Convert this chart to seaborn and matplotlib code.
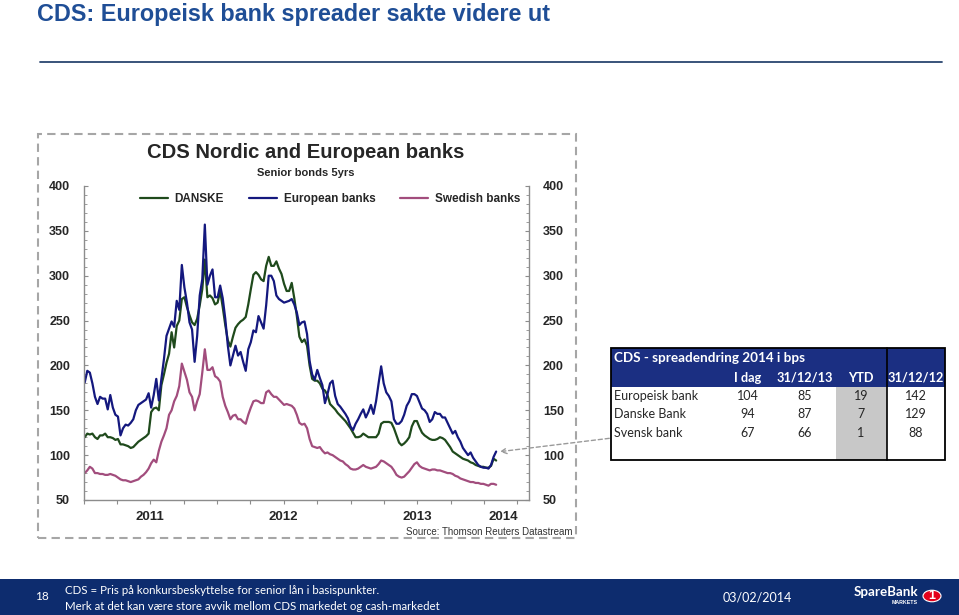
import numpy as np
import pandas as pd
import matplotlib
matplotlib.use("Agg")
import matplotlib.pyplot as plt
import matplotlib.dates as mdates
from matplotlib.ticker import MultipleLocator, NullFormatter
from matplotlib.patches import Rectangle, Circle, FancyArrowPatch
from matplotlib.lines import Line2D
import seaborn as sns

# ---------------- data (weekly, first week = 2011-01-03) ----------------
START = "2011-01-03"
danske = [120, 124, 123, 124, 120, 118, 122, 122, 124, 120, 120, 119, 117, 118, 112, 112, 111, 110, 108, 109,
          112, 115, 117, 119, 121, 124, 148, 152, 153, 150, 178, 190, 203, 213, 237, 220, 244, 250, 274, 276,
          265, 256, 248, 245, 252, 267, 285, 318, 276, 278, 275, 268, 270, 283, 265, 245, 228, 221, 232, 242,
          246, 249, 251, 254, 268, 285, 301, 304, 301, 296, 294, 311, 321, 311, 311, 316, 308, 302, 291, 283,
          283, 292, 275, 255, 232, 226, 229, 222, 200, 185, 183, 183, 180, 174, 172, 167, 157, 154, 151, 147,
          144, 141, 138, 134, 130, 125, 120, 120, 121, 124, 122, 120, 120, 120, 120, 124, 135, 137, 137, 137,
          136, 130, 122, 114, 111, 113, 116, 120, 132, 138, 138, 131, 125, 122, 120, 118, 117, 117, 118, 120,
          119, 117, 113, 109, 104, 102, 100, 98, 96, 95, 94, 92, 91, 89, 88, 87, 87, 86, 86, 88,
          96, 94]
european = [181, 194, 192, 180, 165, 157, 165, 163, 163, 151, 167, 153, 145, 143, 122, 130, 134, 133, 136, 140,
            150, 156, 158, 160, 162, 169, 153, 167, 185, 161, 185, 207, 233, 241, 249, 243, 272, 262, 312, 287,
            270, 248, 240, 204, 233, 278, 296, 357, 290, 300, 307, 276, 276, 289, 275, 252, 222, 200, 211, 222,
            211, 215, 204, 194, 218, 226, 239, 237, 255, 248, 241, 267, 300, 300, 294, 278, 274, 272, 270, 271,
            272, 274, 268, 259, 245, 248, 249, 235, 205, 190, 184, 195, 186, 178, 158, 168, 180, 183, 166, 157,
            154, 150, 146, 141, 132, 128, 135, 140, 146, 151, 142, 148, 156, 146, 160, 180, 199, 180, 170, 166,
            160, 140, 135, 135, 138, 145, 155, 160, 168, 168, 166, 159, 152, 150, 146, 137, 140, 148, 146, 146,
            142, 142, 136, 130, 124, 127, 120, 115, 108, 104, 100, 103, 97, 93, 89, 87, 86, 86, 85, 89,
            98, 104]
swedish = [80, 83, 87, 85, 80, 80, 79, 79, 78, 78, 79, 78, 77, 75, 73, 72, 72, 71, 70, 71,
           72, 73, 76, 78, 81, 85, 91, 95, 92, 105, 115, 122, 130, 145, 150, 160, 166, 177, 202, 193,
           184, 170, 165, 150, 160, 168, 192, 218, 195, 195, 198, 188, 186, 182, 165, 155, 148, 140, 144, 145,
           140, 140, 137, 135, 145, 153, 160, 161, 160, 158, 158, 170, 172, 168, 165, 165, 162, 159, 156, 157,
           156, 155, 152, 145, 136, 134, 135, 130, 118, 110, 109, 108, 109, 105, 102, 103, 101, 100, 98, 96,
           94, 93, 90, 88, 85, 84, 84, 85, 87, 89, 87, 86, 85, 86, 87, 90, 94, 93, 91, 89,
           87, 83, 78, 76, 75, 76, 79, 82, 86, 90, 92, 88, 86, 85, 84, 83, 84, 84, 83, 83,
           82, 81, 80, 80, 79, 77, 76, 74, 73, 72, 71, 70, 70, 69, 69, 68, 68, 67, 66, 68,
           68, 67]

series_names = ["DANSKE", "European banks", "Swedish banks"]
series_colors = ["#1F4A1C", "#14187E", "#A24D7D"]

y_ticks = [50, 100, 150, 200, 250, 300, 350, 400]
year_labels = ["2011", "2012", "2013", "2014"]
year_label_dates = ["2011-07-01", "2012-07-01", "2013-07-01", "2014-02-22"]

table_title = "CDS - spreadendring 2014 i bps"
table_cols = ["I dag", "31/12/13", "YTD", "31/12/12"]
table_rows = ["Europeisk bank", "Danske Bank", "Svensk bank"]
table_idag = [104, 94, 67]
table_d1213 = [85, 87, 66]
table_ytd = [19, 7, 1]
table_d1212 = [142, 129, 88]

# ---------------- build frame ----------------
def weekly(vals):
    return pd.Timestamp(START) + pd.to_timedelta(np.arange(len(vals)) * 7, unit="D")

frames = []
for name, vals in zip(series_names, [danske, european, swedish]):
    frames.append(pd.DataFrame({"date": weekly(vals), "value": vals, "series": name}))
df = pd.concat(frames, ignore_index=True)

# ---------------- figure ----------------
sns.set_style("white")
plt.rcParams["font.family"] = ["Liberation Sans", "DejaVu Sans"]

W, H = 959, 615
fig = plt.figure(figsize=(W / 100, H / 100), dpi=100)
fig.patch.set_facecolor("white")

def fx(x):
    return x / W

def fy(y):
    return 1 - y / H

# page title + rule
fig.text(fx(37), fy(14), "CDS: Europeisk bank spreader sakte videre ut", ha="left", va="center",
         fontsize=16.8, fontweight="bold", color="#1F4E96")
fig.add_artist(Line2D([fx(40), fx(942)], [fy(62), fy(62)], color="#2A4570", lw=1.3))

# dashed frame around chart
fig.add_artist(Rectangle((fx(38), fy(538)), (576 - 38) / W, (538 - 134) / H, fill=False,
                         ec="#A6A6A6", lw=1.5, ls=(0, (4, 2.5)), transform=fig.transFigure))

# chart axes
ax = fig.add_axes([fx(84), fy(500), (529 - 84) / W, (500 - 186) / H])
sns.lineplot(data=df, x="date", y="value", hue="series", hue_order=series_names,
             palette=series_colors, linewidth=1.6, ax=ax)

ax.set_ylim(50, 400)
ax.set_xlim(pd.Timestamp("2011-01-01"), pd.Timestamp("2014-05-04"))
ax.set_xlabel("")
ax.set_ylabel("")
for s in ["left", "right", "bottom"]:
    ax.spines[s].set_visible(True)
    ax.spines[s].set_color("#8C8C8C")
    ax.spines[s].set_linewidth(1.0)
ax.spines["top"].set_visible(False)

ax.set_yticks(y_ticks)
ax.yaxis.set_minor_locator(MultipleLocator(10))
ax.tick_params(axis="y", which="major", left=True, right=True, labelleft=True, labelright=True,
               direction="in", length=3, color="#8C8C8C", labelsize=9, pad=10)
ax.tick_params(axis="y", which="minor", left=True, right=True, direction="in", length=2, color="#8C8C8C")
for t in ax.yaxis.get_major_ticks():
    t.label1.set_fontweight("bold")
    t.label2.set_fontweight("bold")

ax.xaxis.remove_overlapping_locs = False
ax.xaxis.set_major_locator(mdates.MonthLocator(bymonth=[1, 4, 7, 10]))
ax.xaxis.set_major_formatter(NullFormatter())
ax.set_xticks(pd.to_datetime(year_label_dates), labels=year_labels, minor=True)
ax.tick_params(axis="x", which="major", bottom=True, direction="out", length=3, color="#8C8C8C")
ax.tick_params(axis="x", which="minor", bottom=True, length=0, pad=8, labelsize=9.5)
for lbl in ax.get_xticklabels(minor=True):
    lbl.set_fontweight("bold")
ax.grid(False)

sns.move_legend(ax, "center", bbox_to_anchor=(fx(330), fy(199)), bbox_transform=fig.transFigure,
                ncol=3, title=None, frameon=False, handlelength=2.4, handletextpad=0.55,
                columnspacing=2.1, prop={"weight": "bold", "size": 8.5})

fig.text(fx(306), fy(152), "CDS Nordic and European banks", ha="center", va="center",
         fontsize=14.6, fontweight="bold")
fig.text(fx(306), fy(173), "Senior bonds 5yrs", ha="center", va="center", fontsize=8, fontweight="bold")
fig.text(fx(573), fy(532), "Source: Thomson Reuters Datastream", ha="right", va="center",
         fontsize=7, color="#333333")

# arrow from table to last point
fig.add_artist(FancyArrowPatch(
    (fx(612), fy(438)), (fx(497), fy(452)), transform=fig.transFigure,
    arrowstyle="->", mutation_scale=10, color="#9A9A9A", lw=1.0, ls=(0, (3, 2))))

# ---------------- table ----------------
tfont = ["Lato", "DejaVu Sans"]
TL, TR, TT, TB, HB = 611, 945, 348, 460, 387
hdr_color = "#1B2F82"
fig.add_artist(Rectangle((fx(TL), fy(HB)), (TR - TL) / W, (HB - TT) / H, fc=hdr_color, ec="none",
                         transform=fig.transFigure))
fig.add_artist(Rectangle((fx(836), fy(TB)), (887 - 836) / W, (TB - HB) / H, fc="#C8C8C8", ec="none",
                         transform=fig.transFigure))
fig.add_artist(Rectangle((fx(TL), fy(TB)), (TR - TL) / W, (TB - TT) / H, fill=False, ec="black", lw=1.3,
                         transform=fig.transFigure))
fig.add_artist(Line2D([fx(887), fx(887)], [fy(TT), fy(TB)], color="black", lw=1.2))

fig.text(fx(614), fy(358), table_title, ha="left", va="center", fontsize=9.7, fontweight="bold",
         color="white", family=tfont)
col_x = [748, 805, 861, 916]
for cx, c in zip(col_x, table_cols):
    fig.text(fx(cx), fy(378), c, ha="center", va="center", fontsize=9.2, fontweight="bold",
             color="white", family=tfont)
row_y = [396, 414, 433]
for i, (ry, rn) in enumerate(zip(row_y, table_rows)):
    fig.text(fx(614), fy(ry), rn, ha="left", va="center", fontsize=9, family=tfont)
    for cx, v in zip(col_x, [table_idag[i], table_d1213[i], table_ytd[i], table_d1212[i]]):
        fig.text(fx(cx), fy(ry), str(v), ha="center", va="center", fontsize=9, family=tfont)

# ---------------- footer ----------------
fig.add_artist(Rectangle((0, 0), 1, (615 - 579) / H, fc="#0D2C6E", ec="none", transform=fig.transFigure))
fig.text(fx(42), fy(597), "18", ha="center", va="center", fontsize=8.5, color="white", family=tfont)
fig.text(fx(65), fy(590), "CDS = Pris på konkursbeskyttelse for senior lån i basispunkter.", ha="left",
         va="center", fontsize=8.3, color="white", family=tfont)
fig.text(fx(65), fy(606), "Merk at det kan være store avvik mellom CDS markedet og cash-markedet",
         ha="left", va="center", fontsize=8.3, color="white", family=tfont)
fig.text(fx(757), fy(598), "03/02/2014", ha="center", va="center", fontsize=9, color="white", family=tfont)
fig.text(fx(854), fy(592), "SpareBank", ha="left", va="center", fontsize=9.6, fontweight="bold",
         color="white", family=tfont)
fig.text(fx(918), fy(603), "MARKETS", ha="right", va="center", fontsize=3.8, fontweight="bold", color="white")
fig.add_artist(Circle((fx(932), fy(596)), 9 / W, fc="#E3001B", ec="white", lw=0.8, transform=fig.transFigure))
fig.text(fx(932), fy(596), "1", ha="center", va="center", fontsize=9, fontweight="bold", color="white")

fig.savefig("out.png", dpi=100)
